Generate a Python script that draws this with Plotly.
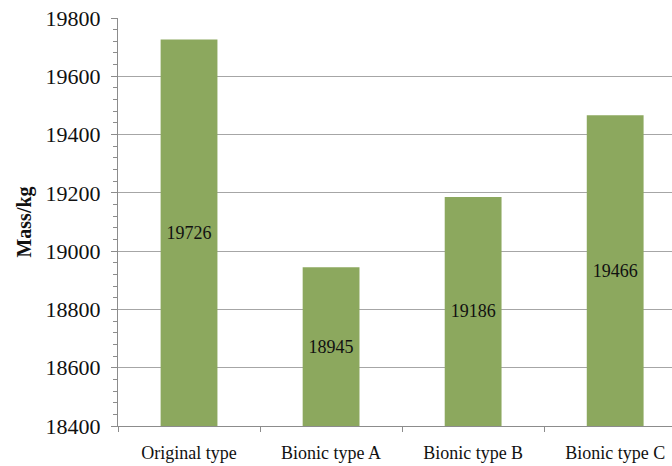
import plotly.graph_objects as go

categories = ["Original type", "Bionic type A", "Bionic type B", "Bionic type C"]
mass_kg = [19726, 18945, 19186, 19466]
y_ticks = [18400, 18600, 18800, 19000, 19200, 19400, 19600, 19800]
y_floor = 18400

serif = "Liberation Serif"

fig = go.Figure()
fig.add_trace(go.Bar(
    x=categories,
    y=[v - y_floor for v in mass_kg],
    base=y_floor,
    width=0.4,
    marker=dict(color="#8CA85E", line=dict(width=0)),
    text=[str(v) for v in mass_kg],
    textposition="inside",
    insidetextanchor="middle",
    textangle=0,
    textfont=dict(family=serif, size=18, color="#111111"),
    hoverinfo="skip",
))

fig.update_layout(
    width=672, height=466,
    margin=dict(l=118, r=0, t=18, b=40),
    paper_bgcolor="white", plot_bgcolor="white",
    showlegend=False,
    font=dict(family=serif, color="#111111"),
)
fig.update_xaxes(
    type="category",
    range=[-0.5, 3.40],
    showline=True, linecolor="#8c8c8c", linewidth=1,
    ticks="outside", tickson="boundaries", ticklen=5, tickcolor="#8c8c8c",
    ticklabelstandoff=10,
    tickfont=dict(family=serif, size=18, color="#111111"),
    showgrid=False,
)
fig.update_yaxes(
    range=[18400, 19800],
    tickvals=y_ticks,
    ticktext=[str(v) for v in y_ticks],
    showline=True, linecolor="#8c8c8c", linewidth=1,
    ticks="outside", ticklen=6, tickcolor="#8c8c8c",
    minor=dict(dtick=40, ticks="outside", ticklen=4, tickcolor="#8c8c8c", showgrid=False),
    showgrid=True, gridcolor="#a6a6a6", gridwidth=1,
    ticklabelstandoff=6,
    tickfont=dict(family=serif, size=22, color="#111111"),
    title=dict(text="<b>Mass/kg</b>", font=dict(family=serif, size=20, color="#111111"), standoff=8),
    zeroline=False,
)

fig.write_html("out.html")
